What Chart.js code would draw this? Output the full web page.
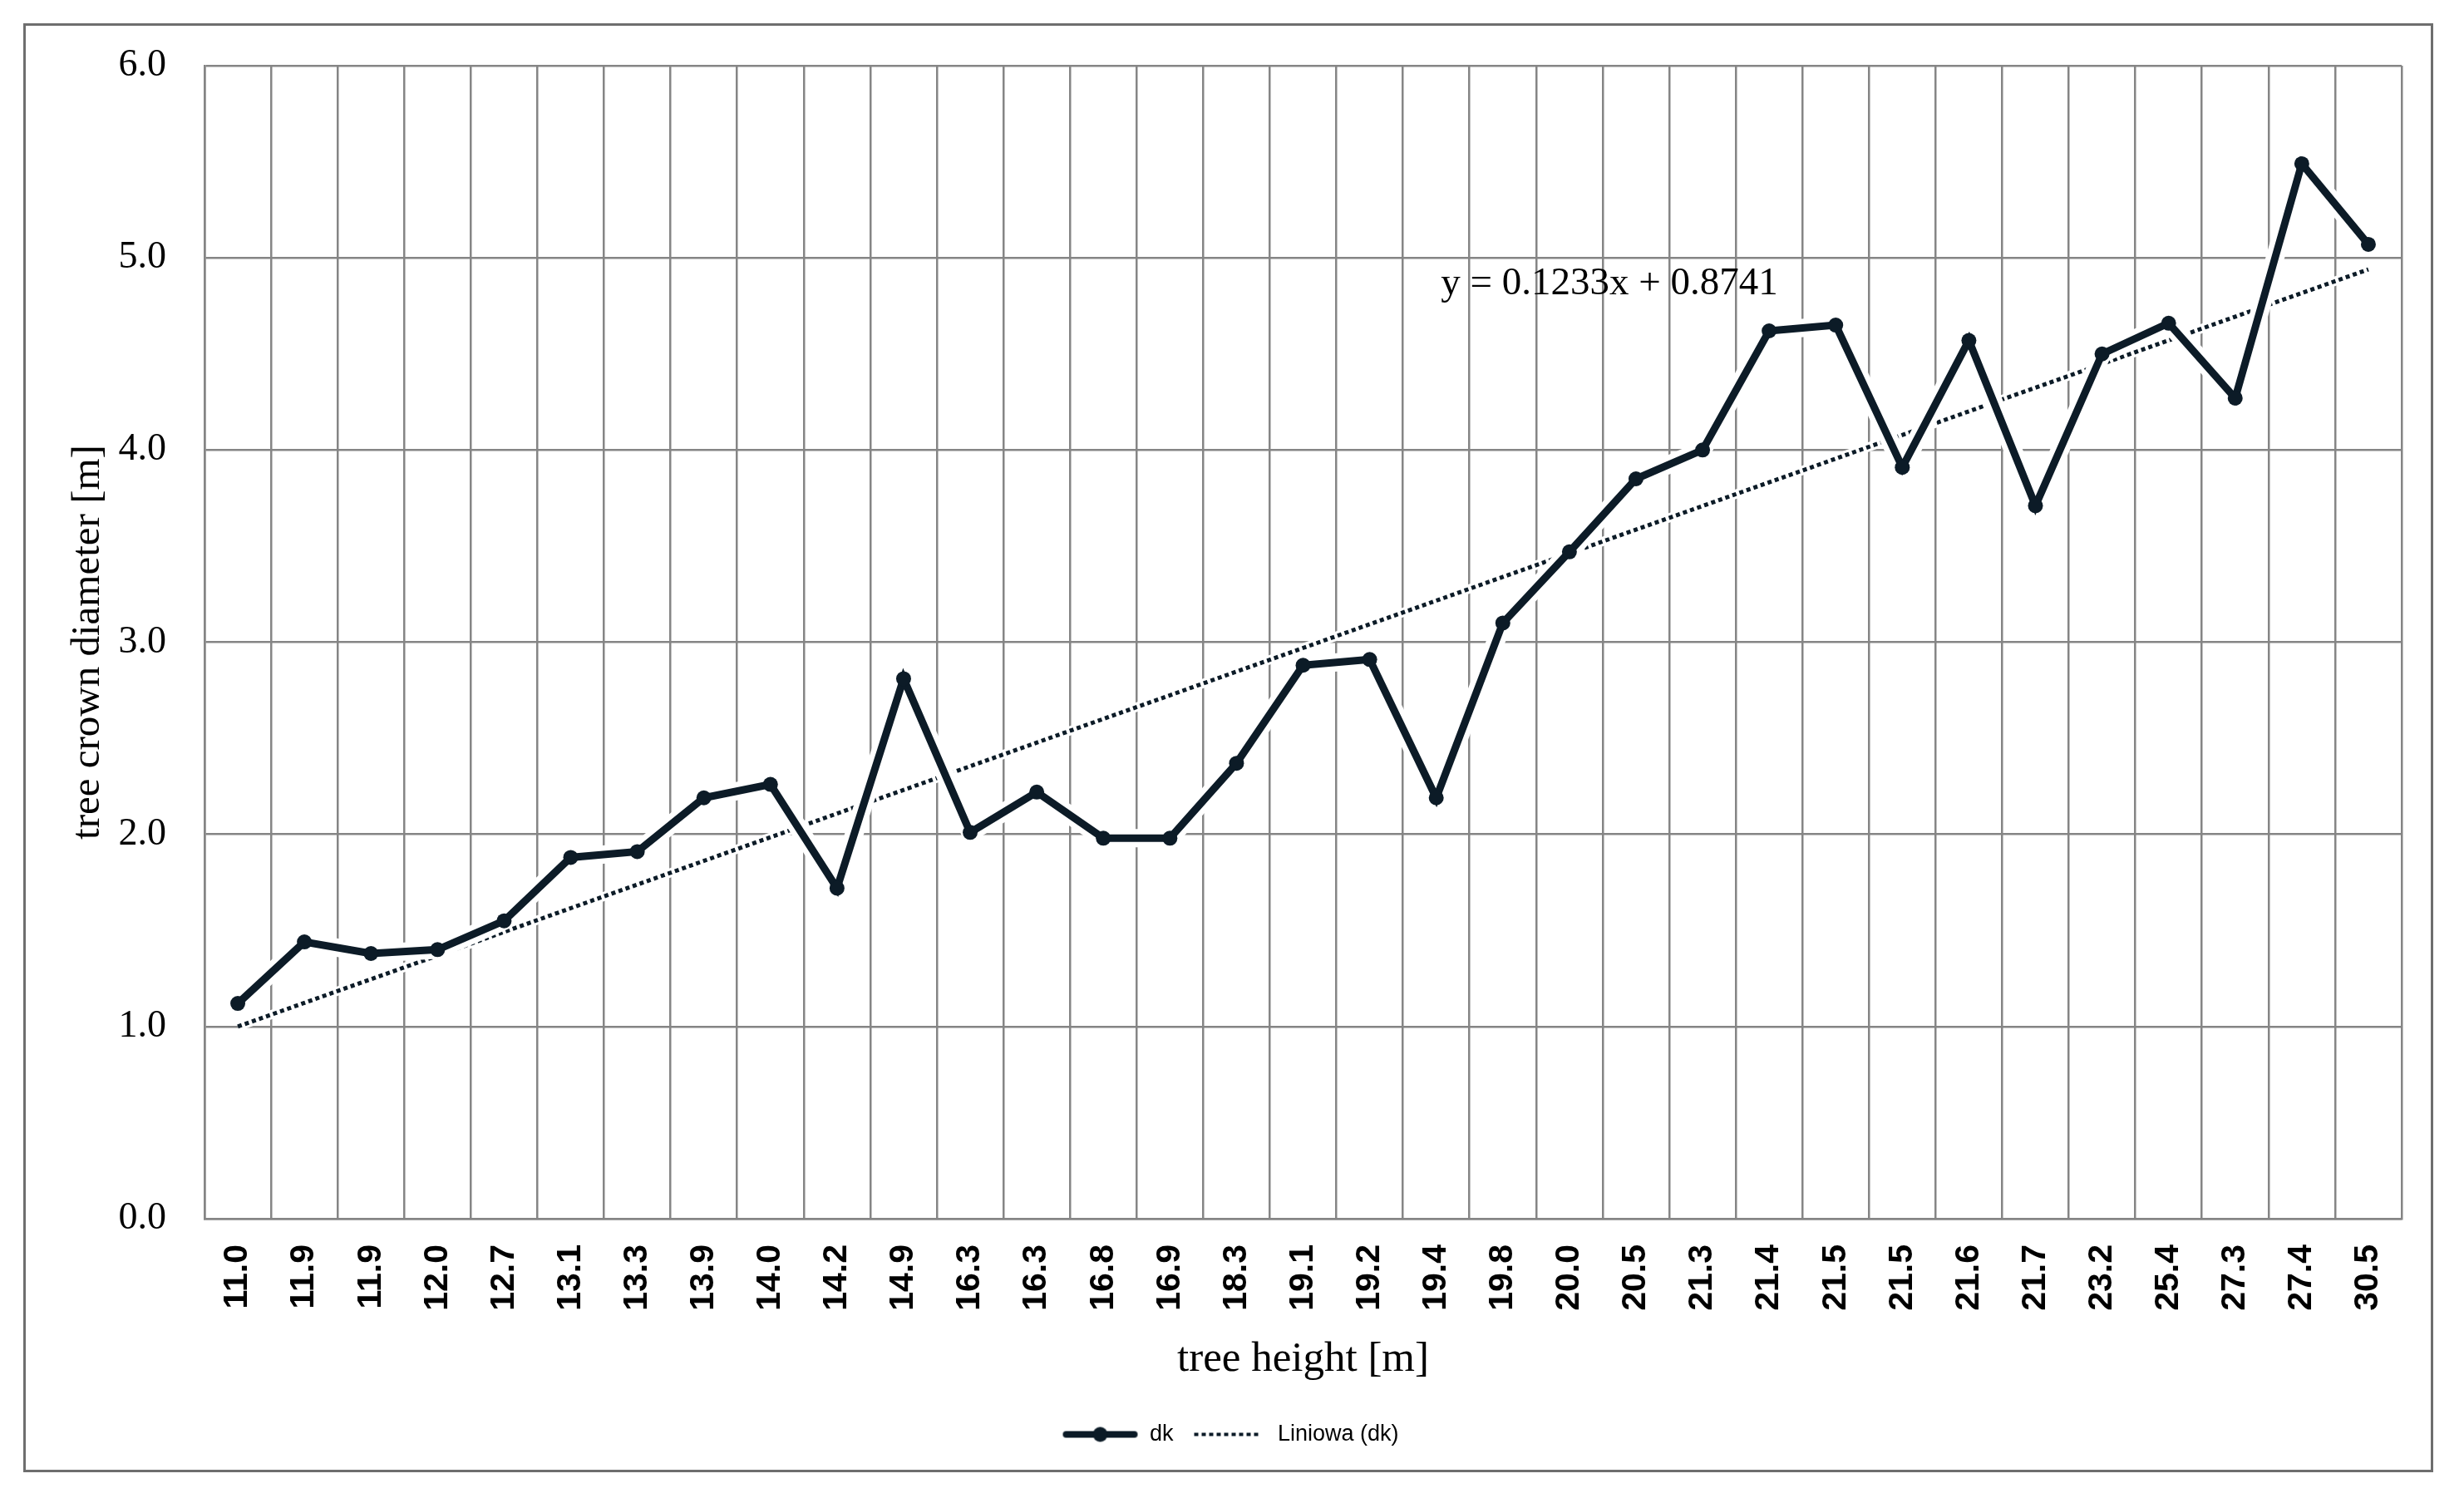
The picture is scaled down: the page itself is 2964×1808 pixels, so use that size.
<!DOCTYPE html>
<html>
<head>
<meta charset="utf-8">
<script src="https://cdn.jsdelivr.net/npm/chart.js@4.4.1/dist/chart.umd.min.js"></script>
<style>
html,body{margin:0;padding:0;background:#fff;}
#wrap{position:relative;width:2964px;height:1808px;}
</style>
</head>
<body>
<div id="wrap"><canvas id="c" width="2964" height="1808"></canvas></div>
<script>
// ---- data ----
const treeHeights = ['11.0','11.9','11.9','12.0','12.7','13.1','13.3','13.9','14.0','14.2','14.9','16.3','16.3','16.8','16.9','18.3','19.1','19.2','19.4','19.8','20.0','20.5','21.3','21.4','21.5','21.5','21.6','21.7','23.2','25.4','27.3','27.4','30.5'];
const crownDiameter = [1.12,1.44,1.38,1.40,1.55,1.88,1.91,2.19,2.26,1.72,2.81,2.01,2.22,1.98,1.98,2.37,2.88,2.91,2.19,3.10,3.47,3.85,4.00,4.62,4.65,3.91,4.57,3.71,4.50,4.66,4.27,5.49,5.07];
const trendStart = 1.00;   // value of linear trend at first category
const trendEnd = 4.94;     // value of linear trend at last category
const yTicks = [0,1,2,3,4,5,6];
const equationText = 'y = 0.1233x + 0.8741';
const seriesLabel = 'dk';
const trendLabel = 'Liniowa (dk)';

const trendValues = treeHeights.map((_, i) => i === 0 ? trendStart : (i === treeHeights.length - 1 ? trendEnd : null));

const LINE = '#0c1b27';
const GRID = '#858585';

// legend symbols
function legendLineWithDot() {
  const c = document.createElement('canvas');
  c.width = 92; c.height = 22;
  const g = c.getContext('2d');
  g.strokeStyle = LINE; g.lineWidth = 8; g.lineCap = 'round';
  g.beginPath(); g.moveTo(5, 11); g.lineTo(87, 11); g.stroke();
  g.fillStyle = LINE; g.beginPath(); g.arc(46, 11, 9, 0, Math.PI * 2); g.fill();
  return c;
}
function legendDotted() {
  const c = document.createElement('canvas');
  c.width = 84; c.height = 22;
  const g = c.getContext('2d');
  g.fillStyle = LINE;
  for (let x = 1; x < 82; x += 9) { g.fillRect(x, 9, 5, 4); }
  return c;
}
const imgDk = legendLineWithDot();
const imgTrend = legendDotted();

const framePlugin = {
  id: 'frame',
  beforeDraw(chart) {
    const ctx = chart.ctx;
    ctx.save();
    ctx.fillStyle = '#ffffff';
    ctx.fillRect(0, 0, chart.width, chart.height);
    ctx.strokeStyle = '#6e6e6e';
    ctx.lineWidth = 3;
    ctx.strokeRect(29.5, 29.5, 2896, 1740);
    ctx.restore();
  }
};

const equationPlugin = {
  id: 'equation',
  afterDatasetsDraw(chart) {
    const ctx = chart.ctx;
    const xs = chart.scales.x, ys = chart.scales.y;
    const x = xs.getPixelForValue(20.6);
    const y = ys.getPixelForValue(4.81);
    ctx.save();
    ctx.font = '47px "Liberation Serif"';
    ctx.fillStyle = '#000';
    ctx.textAlign = 'center';
    ctx.textBaseline = 'alphabetic';
    ctx.fillText(equationText, x, y);
    ctx.restore();
  }
};

new Chart(document.getElementById('c'), {
  type: 'line',
  data: {
    labels: treeHeights,
    datasets: [
      {
        label: seriesLabel,
        data: crownDiameter,
        borderColor: LINE,
        backgroundColor: LINE,
        borderWidth: 9,
        pointRadius: 9,
        pointBorderWidth: 0,
        pointBackgroundColor: LINE,
        tension: 0,
        order: 1
      },
      {
        label: trendLabel,
        data: trendValues,
        spanGaps: true,
        borderColor: LINE,
        borderWidth: 5,
        borderDash: [5, 4],
        pointRadius: 0,
        tension: 0,
        order: 3
      },
      {
        label: 'halo-dk',
        data: crownDiameter,
        borderColor: '#ffffff',
        borderWidth: 22,
        pointRadius: 0,
        tension: 0,
        order: 2
      },
      {
        label: 'halo-trend',
        data: trendValues,
        spanGaps: true,
        borderColor: '#ffffff',
        borderWidth: 11,
        pointRadius: 0,
        tension: 0,
        order: 4
      }
    ]
  },
  options: {
    responsive: false,
    devicePixelRatio: 1,
    animation: false,
    layout: { padding: { left: 71, right: 75, top: 79, bottom: 59 } },
    plugins: {
      tooltip: { enabled: false },
      legend: {
        position: 'bottom',
        labels: {
          usePointStyle: true,
          pointStyleWidth: 92,
          boxHeight: 22,
          padding: 20,
          color: '#000',
          font: { family: 'Liberation Sans', size: 27 },
          generateLabels: () => [
            { text: seriesLabel, pointStyle: imgDk, fillStyle: LINE, strokeStyle: LINE, lineWidth: 0, hidden: false, datasetIndex: 0, fontColor: '#000' },
            { text: trendLabel, pointStyle: imgTrend, fillStyle: LINE, strokeStyle: LINE, lineWidth: 0, hidden: false, datasetIndex: 1, fontColor: '#000' }
          ]
        }
      }
    },
    scales: {
      x: {
        type: 'category',
        offset: true,
        grid: { offset: true, color: GRID, lineWidth: 2.5, drawTicks: false },
        border: { color: GRID, width: 2.5 },
        ticks: {
          autoSkip: false,
          minRotation: 90,
          maxRotation: 90,
          padding: 31,
          color: '#000',
          font: { family: 'Liberation Sans', size: 41, weight: 'bold' }
        },
        title: {
          display: true,
          text: 'tree height [m]',
          color: '#000',
          font: { family: 'Liberation Serif', size: 51 },
          padding: { top: 0, bottom: 26 }
        },
        afterFit: s => { s.height = 226; }
      },
      y: {
        min: 0,
        max: 6,
        grid: { color: GRID, lineWidth: 2.5, drawTicks: false },
        border: { color: GRID, width: 2.5 },
        afterBuildTicks: s => { s.ticks = yTicks.map(v => ({ value: v })); },
        ticks: {
          padding: 46,
          color: '#000',
          font: { family: 'Liberation Serif', size: 46 },
          callback: v => Number(v).toFixed(1)
        },
        title: {
          display: true,
          text: 'tree crown diameter [m]',
          color: '#000',
          font: { family: 'Liberation Serif', size: 49 },
          padding: { top: 6, bottom: 0 }
        },
        afterFit: s => { s.width = 175; }
      }
    }
  },
  plugins: [framePlugin, equationPlugin]
});
</script>
</body>
</html>
